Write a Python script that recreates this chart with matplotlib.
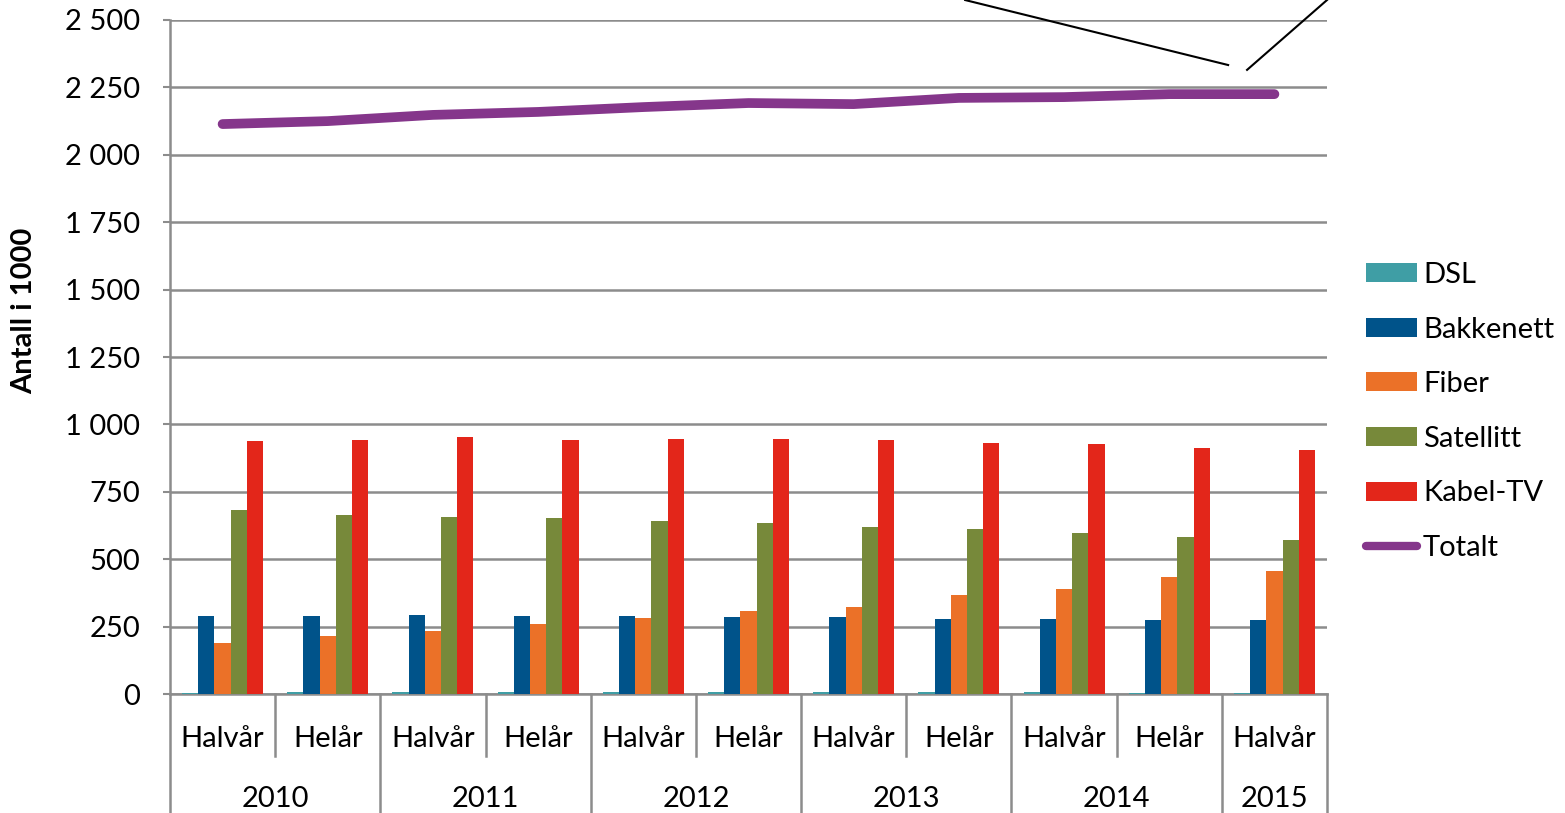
import matplotlib.pyplot as plt
import matplotlib.transforms as mtransforms
from matplotlib.patches import Patch
from matplotlib.lines import Line2D
import numpy as np

plt.rcParams['font.family'] = ['Lato', 'DejaVu Sans']

# data (antall i 1000)
periods = ['Halvår', 'Helår', 'Halvår', 'Helår', 'Halvår', 'Helår',
           'Halvår', 'Helår', 'Halvår', 'Helår', 'Halvår']
years = ['2010', '2011', '2012', '2013', '2014', '2015']
year_span = [2, 2, 2, 2, 2, 1]

dsl = [5, 6, 7, 9, 9, 9, 7, 6, 6, 5, 4]
bakkenett = [290, 290, 292, 288, 290, 287, 285, 280, 280, 276, 275]
fiber = [190, 215, 234, 260, 282, 308, 323, 367, 390, 434, 456]
satellitt = [683, 664, 657, 653, 642, 634, 619, 612, 597, 582, 571]
kabel = [938, 942, 953, 942, 946, 946, 942, 931, 927, 912, 905]
totalt = [2114, 2125, 2148, 2159, 2177, 2192, 2188, 2211, 2214, 2225, 2225]

series = [('DSL', dsl, '#3f9ea5'),
          ('Bakkenett', bakkenett, '#00538a'),
          ('Fiber', fiber, '#eb7128'),
          ('Satellitt', satellitt, '#77893a'),
          ('Kabel-TV', kabel, '#e3261a')]
total_color = '#85368b'
grey = '#8c8c8c'
fs = 21

fig = plt.figure(figsize=(15.65, 8.13), dpi=100)
ax = fig.add_axes([170 / 1565, 1 - 694 / 813, (1327 - 170) / 1565, (694 - 20) / 813])

x = np.arange(len(periods))
w = 0.154
for i, (name, vals, col) in enumerate(series):
    ax.bar(x + (i - 2) * w, vals, w, color=col, linewidth=0, zorder=3)

ax.plot(x, totalt, color=total_color, linewidth=7, solid_capstyle='round', zorder=4)

# leader lines from cut-off labels above the chart
ax.plot([7.06, 9.56], [2574, 2333], color='black', linewidth=1.5, clip_on=False, zorder=5)
ax.plot([9.74, 10.5], [2315, 2574], color='black', linewidth=1.5, clip_on=False, zorder=5)

ax.set_xlim(-0.5, 10.5)
ax.set_ylim(0, 2500)
yt = np.arange(0, 2501, 250)
ax.set_yticks(yt)
ax.set_yticklabels([f'{v:,}'.replace(',', ' ') for v in yt], fontsize=fs)
ax.yaxis.grid(True, color=grey, linewidth=1.8, zorder=0)
ax.set_axisbelow(True)
ax.tick_params(axis='y', length=5, width=1.5, color=grey, pad=16.5)

ax.set_xticks(x)
ax.set_xticklabels(periods, fontsize=fs)
ax.tick_params(axis='x', length=0, pad=23)

for s in ['top', 'right']:
    ax.spines[s].set_visible(False)
for s in ['left', 'bottom']:
    ax.spines[s].set_color(grey)
    ax.spines[s].set_linewidth(1.8)

# multi-level category axis
trans = mtransforms.blended_transform_factory(ax.transData, ax.transAxes)
start = -0.5
bounds = [start]
for y, n in zip(years, year_span):
    ax.text(start + n / 2, -0.156, y, transform=trans, ha='center', va='center', fontsize=fs)
    start += n
    bounds.append(start)
for b in np.arange(-0.5, 11, 1.0):
    if b in bounds:
        ax.plot([b, b], [0, -0.18], transform=trans, color=grey, linewidth=1.8, clip_on=False)
    else:
        ax.plot([b, b], [0, -0.092], transform=trans, color=grey, linewidth=1.8, clip_on=False)

fig.text(24 / 1565, 1 - 311 / 813, 'Antall i 1000', rotation=90, ha='center', va='center',
         fontsize=fs, fontweight='bold')

handles = [Patch(facecolor=c, label=n) for n, _, c in series]
handles.append(Line2D([0], [0], color=total_color, linewidth=6, solid_capstyle='round', label='Totalt'))
fig.legend(handles=handles, loc='upper left', bbox_to_anchor=(1366 / 1565, 1 - 262 / 813),
           frameon=False, fontsize=fs, handlelength=1.75, handleheight=0.62,
           handletextpad=0.2, labelspacing=0.98, borderaxespad=0, borderpad=0)

fig.savefig('out.png', dpi=100)
